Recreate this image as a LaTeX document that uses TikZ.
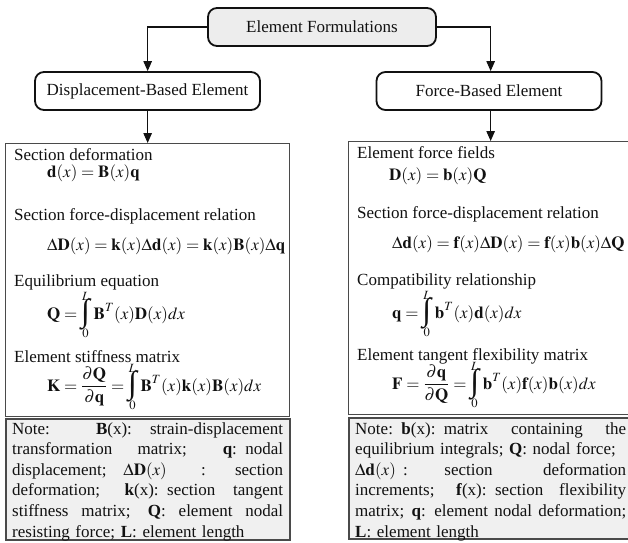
\documentclass[tikz,border=0pt]{standalone}
\usepackage{mathptmx}
\usepackage{fontspec}
\setmainfont{Liberation Serif}
\usetikzlibrary{arrows.meta}
\definecolor{formInk}{HTML}{111111}
\definecolor{formGray}{HTML}{EDEDED}
\definecolor{bodyLine}{HTML}{4A4A4A}
\definecolor{noteFill}{HTML}{F0F0F0}
\newcommand{\notew}{271pt}
% one justified line of a note, gaps share the spare width
\newcommand{\noteline}[1]{\leavevmode\hbox to \notew{\spaceskip=4.25pt plus 1fil\relax #1}}
\newcommand{\gap}[1]{\hskip 4.25pt plus #1fil\relax}
\newcommand{\formint}{\mathop{\vcenter{\hbox{\fontsize{32}{32}\selectfont
  \raisebox{0pt}[\dimexpr\height-5pt][\dimexpr\depth-4pt]{\symbol{"222B}}}}}\limits}
\tikzset{
  every picture/.style={font=\fontsize{17}{20.6}\selectfont, text=formInk},
  form box/.style={draw=formInk, line width=1.8pt, rounded corners=9pt,
    minimum height=38pt, inner sep=0pt},
  form top/.style={form box, fill=formGray},
  form body/.style={draw=bodyLine, line width=1.3pt, fill=white,
    minimum width=284pt, minimum height=273pt, inner sep=0pt},
  form note/.style={draw=bodyLine, line width=1.5pt, fill=noteFill,
    minimum width=284pt, minimum height=121pt, inner sep=0pt},
  form arrow/.style={-{Triangle[length=10pt,width=8.5pt]},
    draw=formInk, line width=1.1pt},
  form text/.style={anchor=base west, inner sep=0pt},
  note text/.style={anchor=base west, inner sep=0pt, text width=\notew, align=left}
}

\begin{document}
\begin{tikzpicture}[x=1pt,y=-1pt]
  \useasboundingbox (0,0) rectangle (628,542);
  % headings
  \node[form top, minimum width=228pt] (top) at (322,27) {Element Formulations};
  \node[form box, minimum width=225pt] (disp) at (147.5,91) {Displacement-Based Element};
  \node[form box, minimum width=225pt] (force) at (489,91) {Force-Based Element};
  % bodies and notes
  \node[form body, anchor=north west] (dbody) at (5,143) {};
  \node[form body, anchor=north west] (fbody) at (348,141) {};
  \node[form note, anchor=north west] (dnote) at (5,418) {};
  \node[form note, anchor=north west] (fnote) at (348,417) {};
  % connectors
  \draw[form arrow] (top.west) -| (disp.north -| dbody.north);
  \draw[form arrow] (top.east) -| (force.north -| fbody.north);
  \draw[form arrow] (disp.south -| dbody.north) -- (dbody.north);
  \draw[form arrow] (force.south -| fbody.north) -- (fbody.north);
  % displacement-based
  \node[form text] (dlab1) at (14,160) {Section deformation};
  \node[form text] (deq1) at (47,177) {$\mathbf{d}(x)=\mathbf{B}(x)\mathbf{q}$};
  \node[form text] (dlab2) at (14,220) {Section force-displacement relation};
  \node[form text] (deq2) at (47,250) {$\Delta\mathbf{D}(x)=\mathbf{k}(x)\Delta\mathbf{d}(x)=\mathbf{k}(x)\mathbf{B}(x)\Delta\mathbf{q}$};
  \node[form text] (dlab3) at (14,286) {Equilibrium equation};
  \node[form text] (deq3) at (47,319) {$\displaystyle\mathbf{Q}=\formint_0^L\,\mathbf{B}^T(x)\mathbf{D}(x)dx$};
  \node[form text] (dlab4) at (14,362) {Element stiffness matrix};
  \node[form text] (deq4) at (47,391) {$\displaystyle\mathbf{K}=\frac{\partial\mathbf{Q}}{\partial\mathbf{q}}=\formint_0^L\,\mathbf{B}^T(x)\mathbf{k}(x)\mathbf{B}(x)dx$};
  % force-based
  \node[form text] (flab1) at (357,158) {Element force fields};
  \node[form text] (feq1) at (389,180) {$\mathbf{D}(x)=\mathbf{b}(x)\mathbf{Q}$};
  \node[form text] (flab2) at (357,218) {Section force-displacement relation};
  \node[form text] (feq2) at (392,248) {$\Delta\mathbf{d}(x)=\mathbf{f}(x)\Delta\mathbf{D}(x)=\mathbf{f}(x)\mathbf{b}(x)\Delta\mathbf{Q}$};
  \node[form text] (flab3) at (357,285) {Compatibility relationship};
  \node[form text] (feq3) at (392,318) {$\displaystyle\mathbf{q}=\formint_0^L\,\mathbf{b}^T(x)\mathbf{d}(x)dx$};
  \node[form text] (flab4) at (357,360) {Element tangent flexibility matrix};
  \node[form text] (feq4) at (392,389) {$\displaystyle\mathbf{F}=\frac{\partial\mathbf{q}}{\partial\mathbf{Q}}=\formint_0^L\,\mathbf{b}^T(x)\mathbf{f}(x)\mathbf{b}(x)dx$};
  % notes
  \node[note text] (dnotetxt) at (12,434) {%
    \noteline{Note:\gap{3}\textbf{B}(x):\gap{1}strain-displacement}\\
    \noteline{transformation matrix; \textbf{q}: nodal}\\
    \noteline{displacement;\gap{1}$\Delta\mathbf{D}(x)$\gap{2.4}:\gap{2}section}\\
    \noteline{deformation; \textbf{k}(x): section tangent}\\
    \noteline{stiffness matrix; \textbf{Q}: element nodal}\\
    resisting force; \textbf{L}: element length};
  \node[note text] (fnotetxt) at (355,434) {%
    \noteline{Note: \textbf{b}(x): matrix containing the}\\
    equilibrium integrals; \textbf{Q}: nodal force;\\
    \noteline{$\Delta\mathbf{d}(x)$\gap{0.2}:\gap{2.1}section\gap{3}deformation}\\
    \noteline{increments; \textbf{f}(x): section flexibility}\\
    \noteline{matrix; \textbf{q}: element nodal deformation;}\\
    \textbf{L}: element length};
\end{tikzpicture}
\end{document}
